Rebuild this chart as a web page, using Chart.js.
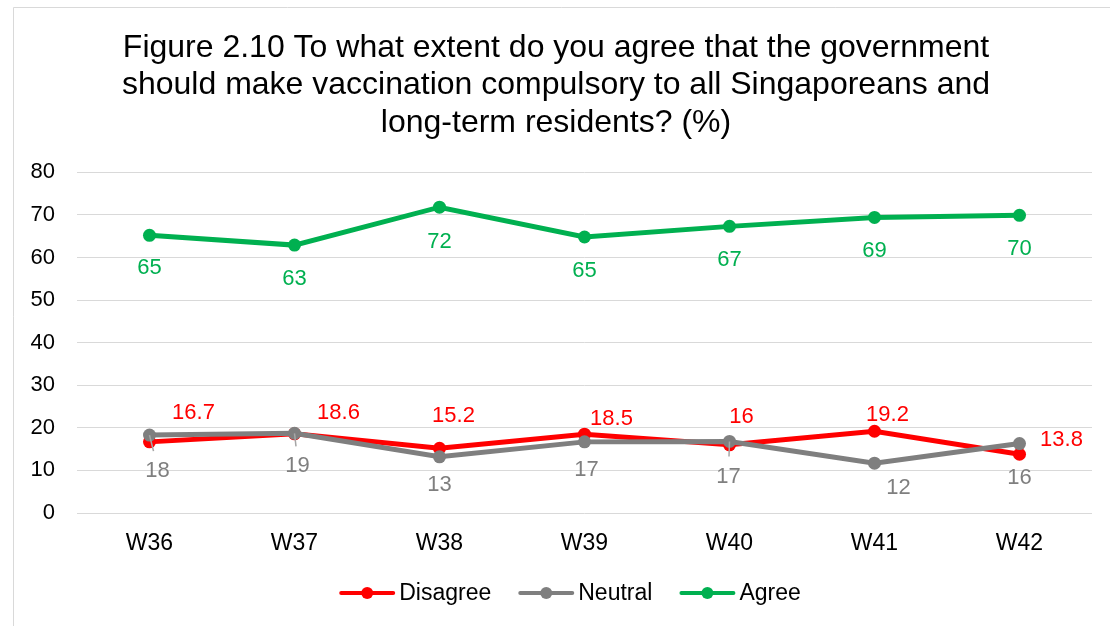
<!DOCTYPE html>
<html>
<head>
<meta charset="utf-8">
<script src="https://cdn.jsdelivr.net/npm/chart.js@4/dist/chart.umd.min.js"></script>
<style>
  html, body { margin: 0; padding: 0; background: #fff; }
  #wrap { position: relative; width: 1110px; height: 626px; }
</style>
</head>
<body>
<div id="wrap"><canvas id="vaxChart"></canvas></div>
<script>
const weeks = ['W36', 'W37', 'W38', 'W39', 'W40', 'W41', 'W42'];
const disagree = [16.7, 18.6, 15.2, 18.5, 16, 19.2, 13.8];
const neutral = [18.3, 18.7, 13.2, 16.7, 16.8, 11.7, 16.3];
const agree = [65.2, 62.9, 71.8, 64.8, 67.3, 69.4, 69.9];
const yMax = 80;
const yStep = 10;

const titleLines = [
  'Figure 2.10 To what extent do you agree that the government',
  'should make vaccination compulsory to all Singaporeans and',
  'long-term residents? (%)'
];

// where each value label sits relative to its point (dx, dy)
const disagreeLabelPos = [[44, -29], [44, -21], [14, -32], [27, -15], [12, -28], [13, -16], [42, -14]];
const neutralLabelPos = [[8, 36], [3, 33], [0, 28], [2, 28], [-1, 35], [24, 25], [0, 34]];
const agreeLabelPos = [[0, 33], [0, 34], [0, 35], [0, 34], [0, 34], [0, 34], [0, 34]];
// neutral labels that get a small leader line back to the point
const neutralLeaders = [true, true, false, false, true, false, false];

const FONT = '"Liberation Sans", Arial, Helvetica, sans-serif';
const RED = '#FF0000';
const GRAY = '#7F7F7F';
const GREEN = '#00B050';

const framePlugin = {
  id: 'frame',
  beforeDraw(chart) {
    const ctx = chart.ctx;
    ctx.save();
    ctx.fillStyle = '#fff';
    ctx.fillRect(0, 0, chart.width, chart.height);
    ctx.strokeStyle = '#D9D9D9';
    ctx.lineWidth = 1;
    ctx.beginPath();
    ctx.moveTo(13.5, chart.height);
    ctx.lineTo(13.5, 7.5);
    ctx.lineTo(chart.width, 7.5);
    ctx.stroke();
    ctx.restore();
  }
};

const valueLabels = {
  id: 'valueLabels',
  afterDatasetsDraw(chart) {
    const ctx = chart.ctx;
    ctx.save();
    ctx.font = '22px ' + FONT;
    ctx.textAlign = 'center';
    ctx.textBaseline = 'middle';
    chart.data.datasets.forEach((ds, i) => {
      const meta = chart.getDatasetMeta(i);
      meta.data.forEach((pt, j) => {
        const [dx, dy] = ds.labelPos[j];
        const v = ds.data[j];
        const txt = ds.roundLabels ? String(Math.round(v)) : String(v);
        if (ds.leaders && ds.leaders[j]) {
          ctx.strokeStyle = '#A6A6A6';
          ctx.lineWidth = 1.5;
          ctx.beginPath();
          ctx.moveTo(pt.x, pt.y);
          ctx.lineTo(pt.x + dx / 2, pt.y + dy - 20);
          ctx.stroke();
        }
        ctx.fillStyle = ds.borderColor;
        ctx.fillText(txt, pt.x + dx, pt.y + dy);
      });
    });
    ctx.restore();
  }
};

// line-and-dot legend under the plot
const lineLegend = {
  id: 'lineLegend',
  afterDraw(chart) {
    const ctx = chart.ctx;
    const y = 593;
    const markW = 56, gapText = 4, gapItem = 27;
    ctx.save();
    ctx.font = '23px ' + FONT;
    ctx.textBaseline = 'middle';
    const items = chart.data.datasets.map(ds => ({
      label: ds.label, color: ds.borderColor, w: markW + gapText + ctx.measureText(ds.label).width
    }));
    const total = items.reduce((s, it) => s + it.w, 0) + gapItem * (items.length - 1);
    let x = 570 - total / 2;
    items.forEach(it => {
      ctx.strokeStyle = it.color;
      ctx.lineWidth = 4;
      ctx.lineCap = 'round';
      ctx.beginPath();
      ctx.moveTo(x + 2, y);
      ctx.lineTo(x + markW - 2, y);
      ctx.stroke();
      ctx.fillStyle = it.color;
      ctx.beginPath();
      ctx.arc(x + markW / 2, y, 6, 0, Math.PI * 2);
      ctx.fill();
      ctx.fillStyle = '#000';
      ctx.fillText(it.label, x + markW + gapText, y + 1);
      x += it.w + gapItem;
    });
    ctx.restore();
  }
};

const ctx = document.getElementById('vaxChart').getContext('2d');

new Chart(ctx, {
  type: 'line',
  data: {
    labels: weeks,
    datasets: [{
      label: 'Disagree',
      data: disagree,
      borderColor: RED,
      backgroundColor: RED,
      labelPos: disagreeLabelPos,
      roundLabels: false,
      order: 1
    }, {
      label: 'Neutral',
      data: neutral,
      borderColor: GRAY,
      backgroundColor: GRAY,
      labelPos: neutralLabelPos,
      leaders: neutralLeaders,
      roundLabels: true,
      order: 0
    }, {
      label: 'Agree',
      data: agree,
      borderColor: GREEN,
      backgroundColor: GREEN,
      labelPos: agreeLabelPos,
      roundLabels: true,
      order: 0
    }]
  },
  options: {
    responsive: true,
    maintainAspectRatio: false,
    animation: false,
    devicePixelRatio: 1,
    elements: {
      line: { borderWidth: 5, tension: 0, fill: false },
      point: { radius: 6.5, borderWidth: 0, hoverRadius: 6.5 }
    },
    layout: { padding: { left: 20, right: 18, top: 0, bottom: 0 } },
    plugins: {
      legend: { display: false },
      tooltip: { enabled: false },
      title: {
        display: true,
        text: titleLines,
        color: '#000',
        font: { family: FONT, size: 32, weight: 'normal', lineHeight: 1.18 },
        padding: { top: 29, bottom: 30 }
      }
    },
    scales: {
      x: {
        offset: true,
        grid: { display: false, offset: true },
        border: { display: false },
        ticks: { color: '#000', font: { family: FONT, size: 23 }, padding: 9 },
        afterFit(scale) { scale.height = 113; }
      },
      y: {
        min: 0,
        max: yMax,
        grid: { color: '#D9D9D9', lineWidth: 1, drawTicks: false },
        border: { display: false },
        ticks: { stepSize: yStep, color: '#000', font: { family: FONT, size: 22 }, padding: 22 },
        afterFit(scale) { scale.width = 57; }
      }
    }
  },
  plugins: [framePlugin, valueLabels, lineLegend]
});
</script>
</body>
</html>
